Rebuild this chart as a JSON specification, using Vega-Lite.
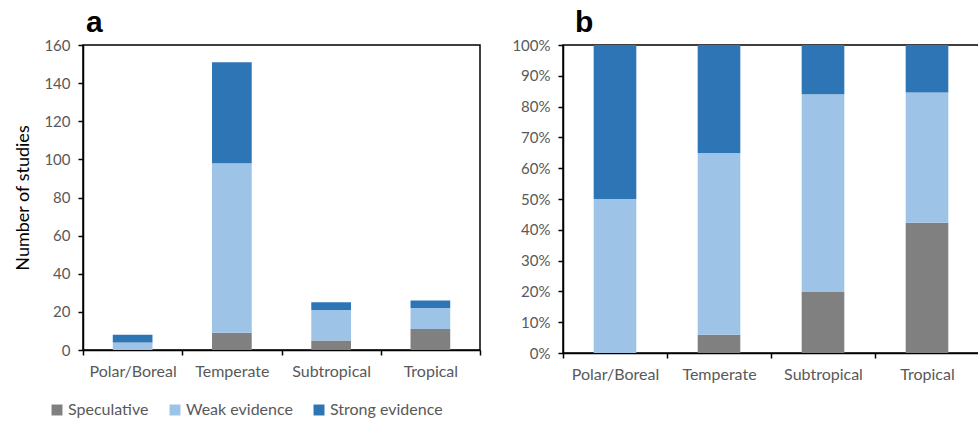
{
  "$schema": "https://vega.github.io/schema/vega-lite/v6.json",
  "padding": {"left": 14, "top": 7, "right": 0, "bottom": 0},
  "background": "white",
  "config": {
    "font": "Lato",
    "view": {"stroke": "black", "strokeWidth": 1.5},
    "axis": {
      "domainColor": "black",
      "domainWidth": 1.5,
      "tickColor": "black",
      "tickWidth": 1.5,
      "tickSize": 5,
      "labelColor": "#595959",
      "labelFont": "Lato",
      "grid": false
    },
    "title": {"font": "Liberation Sans", "fontWeight": "bold", "fontSize": 30, "anchor": "start", "frame": "group", "color": "black"}
  },
  "datasets": {
    "rank": [
      {"evidence": "Speculative", "rank": 0},
      {"evidence": "Weak evidence", "rank": 1},
      {"evidence": "Strong evidence", "rank": 2}
    ]
  },
  "data": {
    "values": [
      {"zone": "Polar/Boreal", "evidence": "Speculative", "n": 0},
      {"zone": "Polar/Boreal", "evidence": "Weak evidence", "n": 4},
      {"zone": "Polar/Boreal", "evidence": "Strong evidence", "n": 4},
      {"zone": "Temperate", "evidence": "Speculative", "n": 9},
      {"zone": "Temperate", "evidence": "Weak evidence", "n": 89},
      {"zone": "Temperate", "evidence": "Strong evidence", "n": 53},
      {"zone": "Subtropical", "evidence": "Speculative", "n": 5},
      {"zone": "Subtropical", "evidence": "Weak evidence", "n": 16},
      {"zone": "Subtropical", "evidence": "Strong evidence", "n": 4},
      {"zone": "Tropical", "evidence": "Speculative", "n": 11},
      {"zone": "Tropical", "evidence": "Weak evidence", "n": 11},
      {"zone": "Tropical", "evidence": "Strong evidence", "n": 4}
    ]
  },
  "transform": [
    {"lookup": "evidence", "from": {"data": {"name": "rank"}, "key": "evidence", "fields": ["rank"]}}
  ],
  "spacing": 29,
  "resolve": {"legend": {"color": "independent"}},
  "hconcat": [
    {
      "title": {"text": "a", "dx": 3, "offset": 0},
      "width": 397,
      "height": 305,
      "mark": {"type": "bar", "width": {"band": 0.4}},
      "encoding": {
        "x": {
          "field": "zone", "type": "nominal",
          "sort": ["Polar/Boreal", "Temperate", "Subtropical", "Tropical"],
          "scale": {"paddingInner": 0, "paddingOuter": 0},
          "axis": {"title": null, "labelAngle": 0, "tickBand": "extent", "labelFontSize": 16, "labelPadding": 8}
        },
        "y": {
          "field": "n", "type": "quantitative", "stack": "zero",
          "scale": {"domain": [0, 160], "nice": false},
          "axis": {"title": "Number of studies", "values": [0, 20, 40, 60, 80, 100, 120, 140, 160], "labelFontSize": 15, "labelPadding": 8, "titleFontSize": 18, "titleFontWeight": "normal", "titleColor": "black", "titlePadding": 11}
        },
        "order": {"field": "rank", "type": "quantitative"},
        "color": {
          "field": "evidence", "type": "nominal",
          "sort": ["Speculative", "Weak evidence", "Strong evidence"],
          "scale": {"domain": ["Speculative", "Weak evidence", "Strong evidence"], "range": ["#808080", "#9DC3E6", "#2E75B6"]},
          "legend": {"title": null, "orient": "none", "direction": "horizontal", "legendX": -34, "legendY": 357, "symbolType": "square", "symbolSize": 120, "symbolStrokeWidth": 0, "symbolOpacity": 1, "labelFontSize": 16, "labelColor": "#595959", "columnPadding": 18, "labelOffset": 3}
        }
      }
    },
    {
      "title": {"text": "b", "dx": 12, "offset": 0},
      "width": 416,
      "height": 308,
      "mark": {"type": "bar", "width": {"band": 0.41}},
      "encoding": {
        "x": {
          "field": "zone", "type": "nominal",
          "sort": ["Polar/Boreal", "Temperate", "Subtropical", "Tropical"],
          "scale": {"paddingInner": 0, "paddingOuter": 0},
          "axis": {"title": null, "labelAngle": 0, "tickBand": "extent", "labelFontSize": 16, "labelPadding": 8}
        },
        "y": {
          "field": "n", "type": "quantitative", "stack": "normalize",
          "scale": {"domain": [0, 1], "nice": false},
          "axis": {"title": null, "format": ".0%", "values": [0, 0.1, 0.2, 0.3, 0.4, 0.5, 0.6, 0.7, 0.8, 0.9, 1], "labelFontSize": 15, "labelPadding": 8}
        },
        "order": {"field": "rank", "type": "quantitative"},
        "color": {
          "field": "evidence", "type": "nominal",
          "sort": ["Speculative", "Weak evidence", "Strong evidence"],
          "scale": {"domain": ["Speculative", "Weak evidence", "Strong evidence"], "range": ["#808080", "#9DC3E6", "#2E75B6"]},
          "legend": null
        }
      }
    }
  ]
}
